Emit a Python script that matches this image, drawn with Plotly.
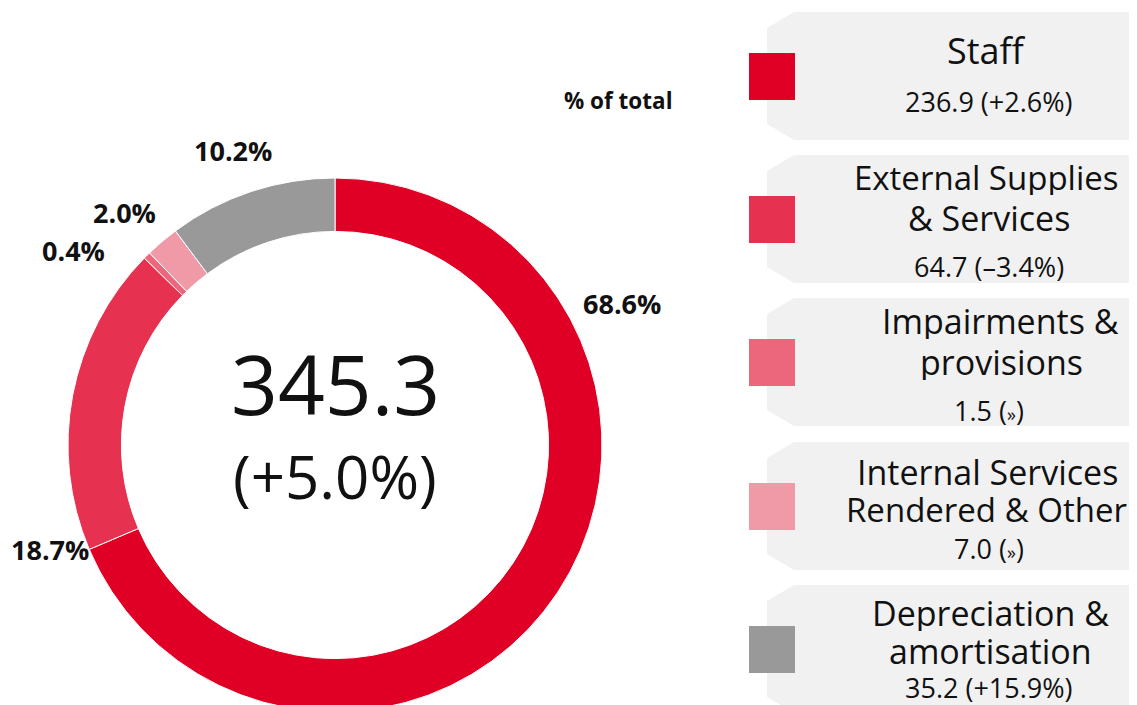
import plotly.graph_objects as go

# ---- data ----
categories = ["Staff", "External Supplies & Services", "Impairments & provisions",
              "Internal Services Rendered & Other", "Depreciation & amortisation"]
legend_lines = [["Staff"], ["External Supplies", "& Services"], ["Impairments &", "provisions"],
                ["Internal Services", "Rendered & Other"], ["Depreciation &", "amortisation"]]
values = [236.9, 64.7, 1.5, 7.0, 35.2]
changes = ["+2.6%", "–3.4%", "»", "»", "+15.9%"]
total_change = "+5.0%"
colors = ["#e00025", "#e63250", "#ec677c", "#f19aa7", "#999999"]

W, H = 1137, 705
OFF = 8  # page body margin offset
def px(x):
    return (x - OFF) / W
def py(y):
    return 1 - (y - OFF) / H

FONT = "Open Sans"
total = sum(values)
pcts = [f"{v / total * 100:.1f}%" for v in values]

# donut geometry (pixels, page coords)
cx, cy, R = 335, 445, 267

fig = go.Figure()
fig.add_trace(go.Pie(
    labels=categories, values=values, sort=False, direction="clockwise", rotation=0,
    hole=0.8, textinfo="none", hoverinfo="label+value+percent",
    marker=dict(colors=colors, line=dict(color="white", width=1)),
    domain=dict(x=[px(cx - R), px(cx + R)], y=[max(0, py(cy + R)), py(cy - R)]),
))

annotations = []
shapes = []

# centre text
annotations.append(dict(x=px(cx), y=py(383), xref="paper", yref="paper", text=f"{total:.1f}",
                        showarrow=False, font=dict(family=FONT, size=82, color="#111111"),
                        xanchor="center", yanchor="middle"))
annotations.append(dict(x=px(cx), y=py(476), xref="paper", yref="paper", text=f"({total_change})",
                        showarrow=False, font=dict(family=FONT, size=60, color="#111111"),
                        xanchor="center", yanchor="middle"))

# percentage labels (positions are layout choices)
pct_pos = [(622, 303), (50, 549), (73, 251), (124, 213), (233, 150)]
for (x, y), t in zip(pct_pos, pcts):
    annotations.append(dict(x=px(x), y=py(y), xref="paper", yref="paper", text=f"<b>{t}</b>",
                            showarrow=False, font=dict(family=FONT, size=27, color="#111111"),
                            xanchor="center", yanchor="middle"))
annotations.append(dict(x=px(618), y=py(101), xref="paper", yref="paper", text="<b>% of total</b>",
                        showarrow=False, font=dict(family=FONT, size=22.5, color="#111111"),
                        xanchor="center", yanchor="middle"))

# legend boxes
tops = [12, 155, 298, 442, 585]
bh = 128
name_y = [[50], [177, 218], [321, 362], [472, 509], [613, 651]]
val_y = [101, 266, 410, 548, 687]
name_x = [[986], [986, 989], [1000, 1001], [987, 986], [990, 990]]
name_size = [[36], [33, 34], [34, 34], [34, 33], [34, 34]]
for i in range(5):
    t = tops[i]
    b = t + bh
    path = (f"M {px(767)},{py(t + 16)} L {px(794)},{py(t)} L {px(W + 20)},{py(t)} "
            f"L {px(W + 20)},{py(b)} L {px(794)},{py(b)} L {px(767)},{py(b - 16)} Z")
    shapes.append(dict(type="path", path=path, xref="paper", yref="paper",
                       fillcolor="#f1f1f1", line=dict(width=0), layer="below"))
    shapes.append(dict(type="rect", xref="paper", yref="paper", x0=px(749), x1=px(795),
                       y0=py(t + 88), y1=py(t + 41), fillcolor=colors[i], line=dict(width=0)))
    for line, yy, xx, fs in zip(legend_lines[i], name_y[i], name_x[i], name_size[i]):
        annotations.append(dict(x=px(xx), y=py(yy), xref="paper", yref="paper", text=line,
                                showarrow=False, height=40 if i == 0 else 36,
                                font=dict(family=FONT, size=fs, color="#111111"),
                                xanchor="center", yanchor="middle"))
    ch = changes[i]
    ch_txt = f"(<span style='font-size:18px'>{ch}</span>)" if ch == "»" else f"({ch})"
    annotations.append(dict(x=px(989), y=py(val_y[i]), xref="paper", yref="paper",
                            text=f"{values[i]:.1f} {ch_txt}", showarrow=False, height=32,
                            font=dict(family=FONT, size=27, color="#111111"),
                            xanchor="center", yanchor="middle"))

fig.update_layout(width=W, height=H, margin=dict(l=0, r=0, t=0, b=0),
                  paper_bgcolor="white", plot_bgcolor="white", showlegend=False,
                  annotations=annotations, shapes=shapes)
fig.write_html("out.html")
